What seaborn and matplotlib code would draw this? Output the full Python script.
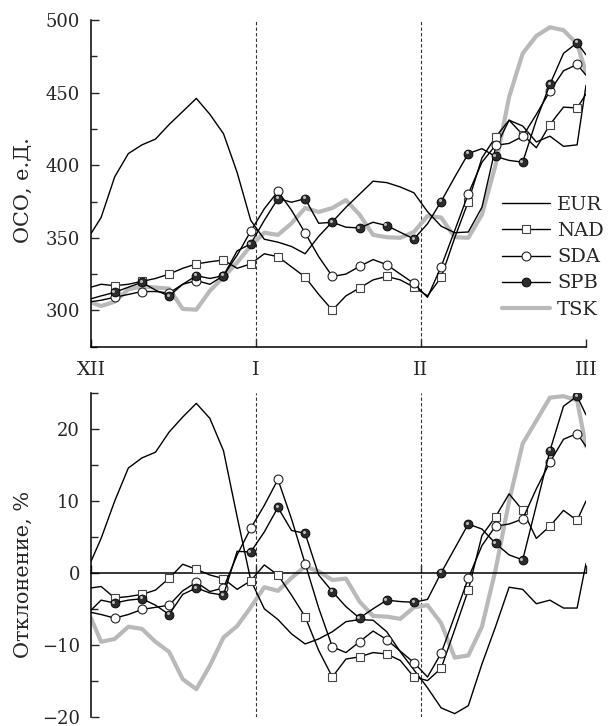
import numpy as np
import pandas as pd
import matplotlib
matplotlib.use("Agg")
import matplotlib.pyplot as plt
from matplotlib.lines import Line2D
from matplotlib.ticker import MultipleLocator
from matplotlib.transforms import offset_copy
import seaborn as sns

# ---------------- data ----------------
# x grid in days (month ticks equally spaced at 0, 30, 60, 90)
DAY = np.concatenate([[0.0], np.round(1.84 + 2.4727 * np.arange(36), 2), [90.0]])
MARK = list(range(2, 37, 2))   # indices of plotted markers

EUR_TOP = [352.9, 364, 392, 408, 414, 418, 428, 437, 446, 435, 421.7, 395, 362, 349, 347, 344,
           339, 351, 361, 371, 380, 389, 388, 385, 381, 368, 358, 353.5, 354, 371, 412, 431,
           427, 416, 420, 413, 414, 455]
NAD_TOP = [316, 318, 317, 318, 320, 322, 325, 329, 332, 333.5, 334.7, 329, 332, 339, 337, 330,
           323, 311, 300.2, 310, 315.4, 321, 323.4, 321, 316, 310, 322.7, 350, 375, 405, 419.4,
           431, 421, 412, 428, 440, 439.4, 449]
SDA_TOP = [306, 307, 309, 311, 313, 313, 312, 318, 320.5, 318, 323.9, 338, 354.5, 370, 382, 369,
           353.4, 337, 323.4, 325, 330.3, 335, 331.5, 325, 318.6, 309, 330.1, 355, 380.3, 402,
           413.7, 415, 419.9, 435, 451, 465, 469.4, 462]
SPB_TOP = [308, 310, 312.4, 316, 319.3, 314, 309.9, 318, 323.9, 322, 323.9, 341, 345.8, 362, 377,
           374.5, 376.9, 360, 360.7, 357.3, 356.8, 360.7, 358.4, 353.8, 349.2, 359.6, 375, 391.8,
           408, 411.4, 406, 403.3, 402.1, 431, 455.6, 477, 484.3, 476]
TSK_TOP = [305.5, 303, 306, 314.5, 316.5, 315.8, 315, 301, 300.5, 313.5, 323, 333, 344.5, 353.5,
           352, 360, 370.5, 367.8, 370.5, 376, 366, 352, 350.4, 350, 354, 365, 364, 350.4, 350,
           366, 400, 447, 477, 489, 495, 493, 483.5, 464]

EUR_DEV = [1.6, 4.8, 10, 14.6, 16, 16.8, 19.6, 21.7, 23.6, 21.5, 17, 7.8, -1, -5, -6.5, -8.5,
           -9.9, -9.2, -8.2, -6.8, -6.5, -6.6, -8.2, -11, -13.5, -16, -18.8, -19.6, -18.5, -12.7,
           -7.5, -2, -2.3, -4.3, -3.8, -4.9, -4.9, 1.3]
NAD_DEV = [-2.1, -1.9, -3.5, -3.3, -3.0, -2.4, -0.75, 1.2, 0.5, -0.3, -0.8, -2.3, -1.1, 1.1, -0.3,
           -3.1, -6.1, -10.8, -14.5, -12, -11.7, -11.1, -11.3, -12.2, -14.5, -15, -13.3, -7.9,
           -2.4, 5.2, 7.8, 11, 8.7, 4.8, 6.5, 8.7, 7.3, 10]
SDA_DEV = [-5.5, -5.8, -6.3, -5.8, -5.1, -4.8, -4.5, -2.5, -1.3, -2.6, -2.1, 2.5, 6.2, 9.4, 13,
           7.5, 1.3, -4.9, -10.3, -11.1, -9.6, -8.1, -9.3, -10.9, -12.5, -14.5, -11.2, -6, -0.75,
           3.8, 6.5, 6.8, 7.5, 11.7, 15.4, 18.6, 19.4, 17.6]
SPB_DEV = [-5.2, -3.8, -4.2, -3.8, -3.6, -4.5, -5.8, -3, -2.1, -2.8, -3.1, 3, 2.9, 5.7, 9.1, 5.9,
           5.5, -0.3, -2.6, -4.7, -6.3, -5, -3.8, -4, -4.1, -3.7, 0, 3.4, 6.8, 6.1, 4.1, 2.5, 1.8,
           9.4, 17, 23.2, 24.6, 22]
TSK_DEV = [-6.3, -9.6, -9.2, -7.5, -7.8, -9.6, -11, -14.8, -16.2, -12.9, -9, -7.4, -4.8, -2, -2.5,
           -0.7, 0.9, 0.2, -1, -0.8, -4, -6, -6.1, -6.4, -4.8, -4.5, -7, -11.8, -11.5, -7.5, 0.4,
           10, 18, 21.2, 24.4, 24.6, 24, 17.6]

SERIES = ["EUR", "NAD", "SDA", "SPB", "TSK"]
MONTH_POS = [0, 30, 60, 90]
MONTH_LABELS = ["XII", "I", "II", "III"]
DIVIDERS = [30, 60]

top_df = pd.DataFrame({"day": DAY, "EUR": EUR_TOP, "NAD": NAD_TOP, "SDA": SDA_TOP,
                       "SPB": SPB_TOP, "TSK": TSK_TOP})
dev_df = pd.DataFrame({"day": DAY, "EUR": EUR_DEV, "NAD": NAD_DEV, "SDA": SDA_DEV,
                       "SPB": SPB_DEV, "TSK": TSK_DEV})

# ---------------- style ----------------
sns.set_style("ticks")
FONT = ["DejaVu Serif"]
plt.rcParams["font.family"] = FONT
plt.rcParams["axes.unicode_minus"] = True

STYLE = {
    "TSK": dict(color="#b9b9b9", lw=3.0, zorder=2),
    "EUR": dict(color="black", lw=1.0, zorder=3),
    "NAD": dict(color="black", lw=1.0, zorder=4, marker="s", markersize=5.5,
                markerfacecolor="white", markeredgecolor="#444444", markeredgewidth=0.8),
    "SDA": dict(color="black", lw=1.0, zorder=5, marker="o", markersize=6.4,
                markerfacecolor="white", markeredgecolor="#222222", markeredgewidth=0.8),
    "SPB": dict(color="black", lw=1.0, zorder=6, marker="o", markersize=6.4,
                markerfacecolor="#2b2b2b", markeredgecolor="black", markeredgewidth=0.6),
}

W, H = 613, 726
fig = plt.figure(figsize=(W / 100, H / 100), dpi=100)
ax1 = fig.add_axes([91 / W, 1 - 346.7 / H, 495 / W, 326.7 / H])
ax2 = fig.add_axes([91 / W, 1 - 716.5 / H, 495 / W, 323.2 / H])

def draw(ax, df):
    for name in ["TSK", "EUR", "NAD", "SDA", "SPB"]:
        kw = dict(STYLE[name])
        if "marker" in kw:
            kw["markevery"] = MARK
        sns.lineplot(data=df, x="day", y=name, ax=ax, legend=False, **kw)
    # shiny highlight on the SPB spheres
    hl = offset_copy(ax.transData, fig=fig, x=-1.0, y=1.0, units="points")
    ax.plot(df["day"].iloc[MARK], df["SPB"].iloc[MARK], ls="none", marker="o",
            markersize=2.2, markerfacecolor="#bdbdbd", markeredgewidth=0,
            transform=hl, zorder=7)
    for d in DIVIDERS:
        ax.axvline(d, color="#333333", lw=0.8, ls=(0, (3, 2)), zorder=1)
    ax.set_xlim(0, 90)
    ax.set_xlabel("")
    for s in ["top", "right"]:
        ax.spines[s].set_visible(False)
    for s in ["left", "bottom"]:
        ax.spines[s].set_linewidth(1.1)
        ax.spines[s].set_color("black")

draw(ax1, top_df)
draw(ax2, dev_df)

# top panel
ax1.set_ylim(275, 500)
ax1.yaxis.set_major_locator(MultipleLocator(50))
ax1.yaxis.set_minor_locator(MultipleLocator(25))
ax1.set_xticks(MONTH_POS)
ax1.set_xticklabels(MONTH_LABELS)
ax1.tick_params(axis="y", which="major", direction="in", length=6, width=1.0,
                labelsize=13, pad=8)
ax1.tick_params(axis="y", which="minor", direction="in", length=4.5, width=1.0)
ax1.tick_params(axis="x", which="major", direction="in", length=6, width=1.0,
                labelsize=14, pad=10)
ax1.set_ylabel("ОСО, е.Д.", fontsize=15, labelpad=0)
ax1.yaxis.set_label_coords(-0.117, 0.48)

# bottom panel
ax2.set_ylim(-20, 25)
ax2.spines["bottom"].set_position(("data", 0))
ax2.yaxis.set_major_locator(MultipleLocator(10))
ax2.yaxis.set_minor_locator(MultipleLocator(5))
ax2.set_xticks(MONTH_POS)
ax2.set_xticklabels([])
ax2.tick_params(axis="y", which="major", direction="in", length=6, width=1.0,
                labelsize=13, pad=8)
ax2.tick_params(axis="y", which="minor", direction="in", length=5, width=1.0)
ax2.tick_params(axis="x", which="major", direction="in", length=6, width=1.0)
ax2.set_ylabel("Отклонение, %", fontsize=15, labelpad=0)
ax2.yaxis.set_label_coords(-0.117, 0.44)

# legend
handles = [Line2D([], [], **{k: v for k, v in STYLE[n].items() if k != "zorder"}) for n in SERIES]
fig.legend(handles, SERIES, loc="upper left", bbox_to_anchor=(501.7 / W, 1 - 196 / H),
           frameon=False, fontsize=14, handlelength=2.5, handletextpad=0.35,
           labelspacing=0.42, borderpad=0, borderaxespad=0)

fig.savefig("out.png", dpi=100)
